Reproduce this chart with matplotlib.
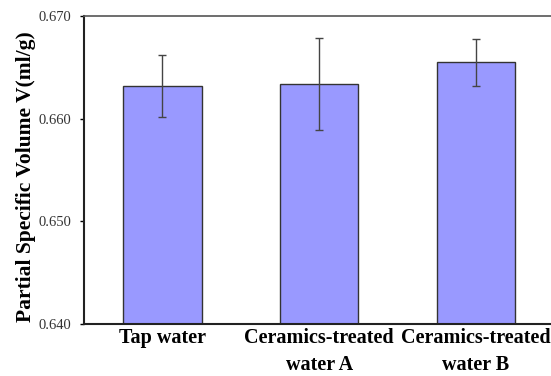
import numpy as np
import matplotlib.pyplot as plt

# Values
labels = ['Tap water', 'Ceramics-treated\nwater A', 'Ceramics-treated\nwater B']
volume = [0.6632, 0.6634, 0.6655]
errors = [0.0030, 0.0045, 0.0023]

plt.rcParams['font.family'] = ['Liberation Serif', 'DejaVu Serif']

fig = plt.figure(figsize=(5.51, 3.76), dpi=100)
ax = fig.add_axes([84/551, 52/376, 467/551, 308/376])

x = np.arange(len(labels))
ax.bar(x, volume, width=0.5, color='#9999FF', edgecolor='#333333', linewidth=1.0,
       yerr=errors, capsize=3,
       error_kw=dict(ecolor='#444444', elinewidth=1.0, capthick=1.0))

ax.set_xlim(-0.5, 2.48)
ax.set_ylim(0.640, 0.670)
ax.set_yticks([0.640, 0.650, 0.660, 0.670])
ax.set_yticklabels(['0.640', '0.650', '0.660', '0.670'], fontsize=10.5, color='#333333')
ax.set_xticks(x)
ax.set_xticklabels(labels, fontsize=14.5, fontweight='bold', linespacing=1.45)
ax.tick_params(axis='x', length=0, pad=3)
ax.tick_params(axis='y', length=3, width=1, direction='out', pad=6)
ax.set_ylabel('Partial Specific Volume V(ml/g)', fontsize=15.5, fontweight='bold')
ax.yaxis.set_label_coords(-0.102, 0.48)

ax.spines['right'].set_visible(False)
for s in ['left', 'bottom']:
    ax.spines[s].set_linewidth(1.5)
    ax.spines[s].set_color('#222222')
ax.spines['top'].set_linewidth(1.2)
ax.spines['top'].set_color('#555555')

fig.savefig('out.png', dpi=100)
